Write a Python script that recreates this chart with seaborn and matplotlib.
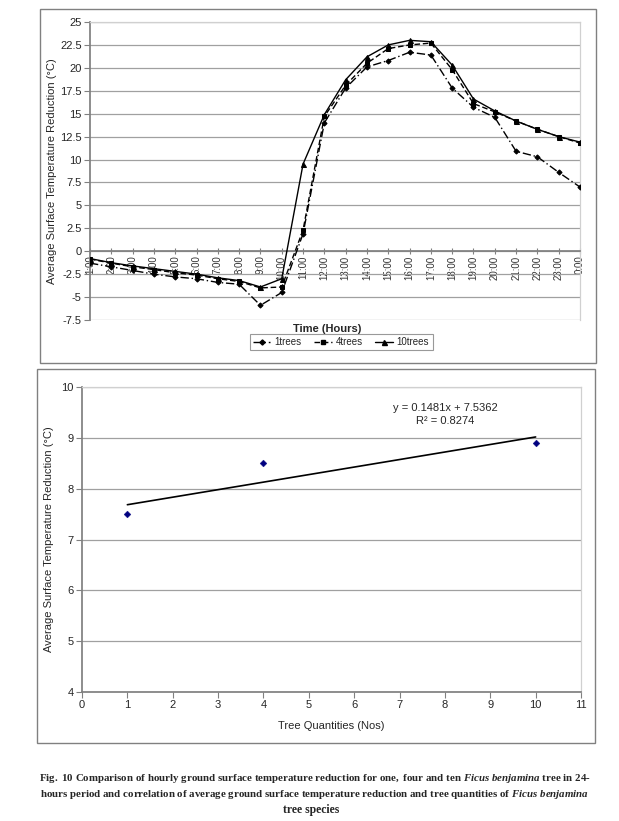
import matplotlib
matplotlib.use("Agg")
import matplotlib.pyplot as plt
import seaborn as sns
import numpy as np
import pandas as pd
from matplotlib.lines import Line2D
from matplotlib.patches import Rectangle

# ---------------- data ----------------
hours = ["1:00", "2:00", "3:00", "4:00", "5:00", "6:00", "7:00", "8:00", "9:00", "10:00",
         "11:00", "12:00", "13:00", "14:00", "15:00", "16:00", "17:00", "18:00", "19:00",
         "20:00", "21:00", "22:00", "23:00", "0:00"]
trees1 = [-1.3, -1.7, -2.1, -2.5, -2.8, -3.0, -3.4, -3.6, -5.9, -4.5,
          1.9, 14.0, 17.8, 20.1, 20.8, 21.7, 21.4, 17.8, 15.7,
          14.6, 10.9, 10.3, 8.6, 7.0]
trees4 = [-0.85, -1.3, -1.7, -2.0, -2.35, -2.6, -3.0, -3.3, -4.0, -3.9,
          2.3, 14.7, 18.1, 20.5, 22.1, 22.5, 22.7, 19.8, 16.1,
          15.2, 14.2, 13.3, 12.5, 11.8]
trees10 = [-0.8, -1.25, -1.6, -1.9, -2.2, -2.5, -2.9, -3.2, -3.9, -3.0,
           9.5, 14.9, 18.7, 21.2, 22.5, 23.0, 22.85, 20.3, 16.6,
           15.3, 14.2, 13.3, 12.5, 11.9]
series_names = ["1trees", "4trees", "10trees"]

tree_qty = [1, 4, 10]
avg_reduction = [7.5, 8.5, 8.9]
trend_slope = 0.1481
trend_intercept = 7.5362
trend_r2 = 0.8274

yticks_top = [-7.5, -5, -2.5, 0, 2.5, 5, 7.5, 10, 12.5, 15, 17.5, 20, 22.5, 25]
yticks_bot = [4, 5, 6, 7, 8, 9, 10]
xticks_bot = list(range(0, 12))

# ---------------- style ----------------
sns.set_theme(style="white")
plt.rcParams["font.family"] = ["Liberation Sans", "DejaVu Sans"]
plt.rcParams["mathtext.fontset"] = "custom"
plt.rcParams["mathtext.rm"] = "Liberation Serif:bold"
plt.rcParams["mathtext.it"] = "Liberation Serif:italic:bold"
plt.rcParams["mathtext.bf"] = "Liberation Serif:bold"

W, H = 619, 821
fig = plt.figure(figsize=(W / 100, H / 100), dpi=100)
fig.patch.set_facecolor("white")

def ax_rect(x0, y0, x1, y1):
    return [x0 / W, 1 - y1 / H, (x1 - x0) / W, (y1 - y0) / H]

# outer boxes
for (x0, y0, x1, y1) in [(40, 9, 596, 363), (37, 369, 595, 743)]:
    fig.add_artist(Rectangle((x0 / W, 1 - y1 / H), (x1 - x0) / W, (y1 - y0) / H,
                             transform=fig.transFigure, fill=False,
                             edgecolor="#808080", linewidth=1.0))

grid_c = "#a0a0a0"

# ---------------- top chart ----------------
ax1 = fig.add_axes(ax_rect(90, 22, 580, 320))
idx = np.arange(len(hours))
df = pd.DataFrame({"idx": np.tile(idx, 3),
                   "val": trees1 + trees4 + trees10,
                   "series": np.repeat(series_names, len(hours))})
styles = {"1trees": dict(ls=(0, (6, 2, 1, 2)), marker="D", ms=2.6),
          "4trees": dict(ls=(0, (4, 2)), marker="s", ms=3.2),
          "10trees": dict(ls="-", marker="^", ms=3.6)}
for name in series_names:
    sub = df[df["series"] == name]
    st = styles[name]
    sns.lineplot(data=sub, x="idx", y="val", ax=ax1, color="black", linewidth=1.0,
                 linestyle=st["ls"], marker=st["marker"], markersize=st["ms"],
                 markeredgecolor="black", markerfacecolor="black", legend=False,
                 zorder=3)

ax1.spines["bottom"].set_position(("data", 0))
ax1.set_xlim(0, 23)
ax1.set_ylim(-7.5, 25)
ax1.set_yticks(yticks_top)
ax1.set_yticklabels([("%g" % v) for v in yticks_top], fontsize=8)
ax1.yaxis.grid(True, color=grid_c, linewidth=0.9)
ax1.set_axisbelow(True)
ax1.set_xticks(idx)
ax1.set_xticklabels(hours, fontsize=7, color="#333333")
for s in ["top", "right"]:
    ax1.spines[s].set_color("#d0d0d0")
    ax1.spines[s].set_linewidth(0.9)
ax1.spines["left"].set_color("#808080")
ax1.spines["bottom"].set_color("#808080")
ax1.tick_params(axis="y", left=True, length=4, width=0.8, color="#808080", pad=2)
ax1.tick_params(axis="x", bottom=True, length=4, width=0.8, color="#808080",
                direction="inout", pad=1, labelrotation=90)
ax1.set_xlabel("")
ax1.set_ylabel("Average Surface Temperature Reduction (°C)", fontsize=8, labelpad=2)

fig.text(327 / W, 1 - 329 / H, "Time (Hours)", ha="center", va="center",
         fontsize=8, fontweight="bold")

handles = []
for name in series_names:
    st = styles[name]
    handles.append(Line2D([], [], color="black", lw=1.0, ls=st["ls"], marker=st["marker"],
                          ms=st["ms"], markerfacecolor="black", markeredgecolor="black"))
leg = fig.legend(handles, series_names, loc="center", bbox_to_anchor=(341 / W, 1 - 342 / H),
                 ncol=3, fontsize=7, frameon=True, fancybox=False, handlelength=1.8,
                 handletextpad=0.4, columnspacing=1.3, borderpad=0.35)
leg.get_frame().set_edgecolor("#808080")
leg.get_frame().set_linewidth(0.8)

# ---------------- bottom chart ----------------
ax2 = fig.add_axes(ax_rect(82, 387, 581, 692))
sns.scatterplot(x=tree_qty, y=avg_reduction, ax=ax2, marker="D", s=12,
                color="#000080", edgecolor="#000080", zorder=4)
trend_x = np.array([min(tree_qty), max(tree_qty)], dtype=float)
trend_y = trend_slope * trend_x + trend_intercept
sns.lineplot(x=trend_x, y=trend_y, ax=ax2, color="black", linewidth=1.2, zorder=3)
ax2.set_xlim(0, 11)
ax2.set_ylim(4, 10)
ax2.set_xticks(xticks_bot)
ax2.set_xticklabels([str(v) for v in xticks_bot], fontsize=8)
ax2.set_yticks(yticks_bot)
ax2.set_yticklabels([str(v) for v in yticks_bot], fontsize=8)
ax2.yaxis.grid(True, color=grid_c, linewidth=0.9)
ax2.set_axisbelow(True)
for s in ["top", "right"]:
    ax2.spines[s].set_color("#d0d0d0")
    ax2.spines[s].set_linewidth(0.9)
ax2.spines["left"].set_color("#808080")
ax2.spines["bottom"].set_color("#808080")
ax2.tick_params(axis="both", left=True, bottom=True, length=4, width=0.8,
                color="#808080", pad=2)
ax2.set_xlabel("Tree Quantities (Nos)", fontsize=8, labelpad=8)
ax2.set_ylabel("Average Surface Temperature Reduction (°C)", fontsize=8, labelpad=5)
ax2.text(8.0, 9.59, "y = %.4fx + %.4f" % (trend_slope, trend_intercept),
         ha="center", va="center", fontsize=8)
ax2.text(8.0, 9.34, "R² = %.4f" % trend_r2, ha="center", va="center", fontsize=8)

# ---------------- caption ----------------
cap1 = (r"$\mathrm{Fig.\ 10\ Comparison\ of\ hourly\ ground\ surface\ temperature\ reduction\ "
        r"for\ one,\ four\ and\ ten\ }\mathit{Ficus\ benjamina}\mathrm{\ tree\ in\ 24\text{-}}$")
cap2 = (r"$\mathrm{hours\ period\ and\ correlation\ of\ average\ ground\ surface\ temperature\ "
        r"reduction\ and\ tree\ quantities\ of\ }\mathit{Ficus\ benjamina}$")
fig.text(315 / W, 1 - 778 / H, cap1, ha="center", va="center", fontsize=7.8)
fig.text(315 / W, 1 - 794 / H, cap2, ha="center", va="center", fontsize=7.8)
fig.text(311 / W, 1 - 810 / H, "tree species", ha="center", va="center", fontsize=8.5,
         family="Liberation Serif", fontweight="bold")

fig.savefig("out.png", dpi=100, facecolor="white")
